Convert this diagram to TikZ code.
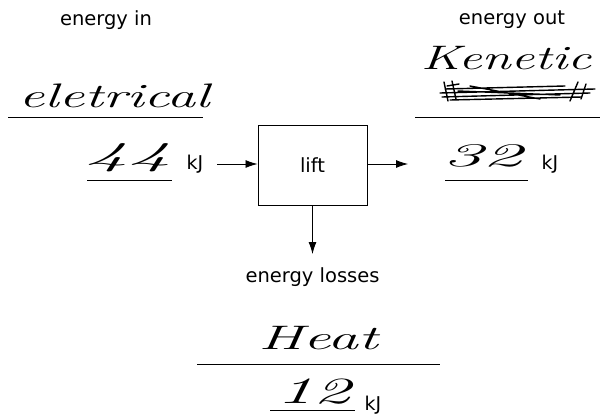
\documentclass[tikz,border=0pt]{standalone}
\usepackage{fontspec}
\newfontfamily\labfont{DejaVu Sans}
\tikzset{
  lab/.style={font=\labfont\fontsize{19.5}{22}\selectfont, inner sep=0pt},
  hand/.style={font=\itshape\fontsize{34}{38}\selectfont, inner sep=0pt},
  digits/.style={font=\itshape\fontsize{33}{36}\selectfont, inner sep=0pt, anchor=base},
  unit/.style={font=\labfont\fontsize{19}{22}\selectfont, inner sep=0pt},
  rule/.style={line width=1pt},
  arr/.style={line width=0.8pt, -{Latex[length=12pt,width=8pt]}},
}
\usetikzlibrary{arrows.meta}
\begin{document}
\begin{tikzpicture}[x=1pt,y=-1pt]
\useasboundingbox[fill=white] (0,0) rectangle (600,420);
% labels
\node[lab] (ein) at (106,20) {energy in};
\node[lab] (eout) at (512,20) {energy out};
% box
\node[draw, line width=1pt, minimum width=109pt, minimum height=80pt, inner sep=0pt] (lift) at (312.5,165) {};
\node[lab] (lifttxt) at (lift.center) {lift};
% left side
\node[hand, xscale=1.68] (elec) at (114,96) {eletrical};
\coordinate (u1a) at (8,117); \coordinate (u1b) at (203,117);
\draw[rule] (u1a) -- (u1b);
\node[digits, xscale=2.6] (n44) at (128,165) {44};
\coordinate (u2a) at (87,180); \coordinate (u2b) at (172,180);
\draw[rule] (u2a) -- (u2b);
\node[unit] (kj1) at (195,164) {kJ};
\coordinate (inStart) at (217,164);
\draw[arr] (inStart) -- (lift.west |- inStart);
% right side
\node[hand, xscale=1.55] (kin) at (506,58) {Kenetic};
\coordinate (u3a) at (415,117); \coordinate (u3b) at (600,117);
\draw[rule] (u3a) -- (u3b);
\node[digits, xscale=2.4] (n32) at (482,166) {32};
\coordinate (u4a) at (445,180); \coordinate (u4b) at (528,180);
\draw[rule] (u4a) -- (u4b);
\node[unit] (kj2) at (550,164) {kJ};
\coordinate (outEnd) at (408,164);
\draw[arr] (lift.east |- outEnd) -- (outEnd);
% scribble (crossed-out word)
\draw[line width=1.4pt, line join=round, line cap=round]
  (444,82) -- (448,101) (452,81) -- (456,99) (447,86) -- (459,84)
  (440,93) -- (595,89) (442,97) -- (590,93) (445,89) -- (565,86) (450,100) -- (582,97)
  (458,91) -- (560,95) (470,86) -- (540,99)
  (578,82) -- (570,101) (586,84) -- (581,99);
% bottom
\coordinate (downEnd) at (312.5,254);
\draw[arr] (lift.south) -- (downEnd);
\node[lab] (loss) at (312.5,277) {energy losses};
\node[hand, xscale=1.8] (heat) at (318,338) {Heat};
\coordinate (u5a) at (197,364); \coordinate (u5b) at (440,364);
\draw[rule] (u5a) -- (u5b);
\node[digits, xscale=2.0, font=\itshape\fontsize{37}{40}\selectfont] (n12) at (313,403) {12};
\coordinate (u6a) at (270,410); \coordinate (u6b) at (355,410);
\draw[rule] (u6a) -- (u6b);
\node[unit] (kj3) at (373,405) {kJ};
\end{tikzpicture}
\end{document}
